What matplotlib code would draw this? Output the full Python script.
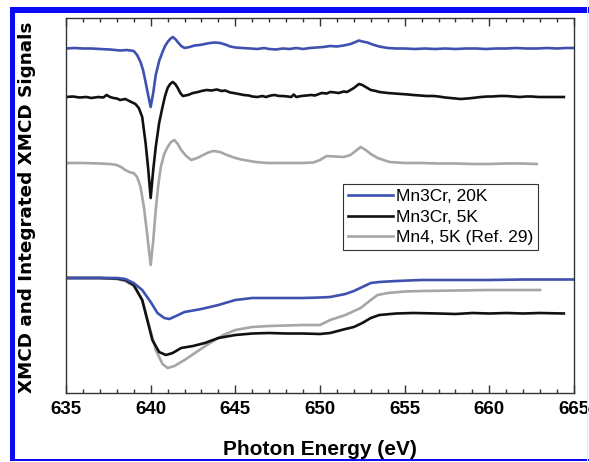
import matplotlib
matplotlib.use("Agg")
import matplotlib.pyplot as plt
from matplotlib.patches import Rectangle
from matplotlib.ticker import MultipleLocator

plt.rcParams['font.family'] = ['Liberation Sans', 'DejaVu Sans']

# XMCD spectra (arbitrary units, offset vertically)
x_blue = [635, 635.5, 636, 636.5, 637, 637.6, 638.2, 638.6, 639.0, 639.2, 639.4, 639.55,
          639.7, 639.85, 640.0, 640.15, 640.3, 640.5, 640.7, 640.85, 641.0, 641.15,
          641.3, 641.45, 641.6, 641.8, 642.0, 642.3, 642.6, 642.9, 643.2, 643.5, 643.8,
          644.1, 644.4, 644.7, 645.0, 645.4, 645.9, 646.3, 646.7, 647.0, 647.4, 647.8,
          648.2, 648.6, 649.0, 649.4, 649.8, 650.2, 650.6, 651.0, 651.4, 651.8, 652.1,
          652.3, 652.5, 652.8, 653.1, 653.5, 654.0, 654.5, 655.0, 655.6, 656.2, 656.8,
          657.4, 658.0, 658.6, 659.2, 659.8, 660.4, 661.0, 661.6, 662.2, 662.8, 663.4,
          664.0, 664.5, 665]
y_blue = [34.45, 34.5, 34.45, 34.45, 34.4, 34.35, 34.25, 34.3, 34.2, 33.8, 33.1, 32.3,
          31.1, 29.8, 28.6, 30.0, 31.8, 33.2, 34.1, 34.7, 35.1, 35.4,
          35.6, 35.4, 35.1, 34.7, 34.5, 34.6, 34.75, 34.8, 34.9, 35.0, 35.05,
          35.0, 34.85, 34.65, 34.55, 34.5, 34.45, 34.4, 34.5, 34.4, 34.35, 34.45,
          34.4, 34.5, 34.4, 34.5, 34.55, 34.6, 34.7, 34.65, 34.75, 34.9, 35.1,
          35.25, 35.15, 35.05, 34.85, 34.65, 34.5, 34.45, 34.45, 34.4, 34.45, 34.4,
          34.45, 34.4, 34.45, 34.45, 34.4, 34.45, 34.45, 34.5, 34.45, 34.45, 34.5,
          34.45, 34.5, 34.5]

x_black = [635, 635.4, 635.8, 636.2, 636.5, 636.9, 637.2, 637.4, 637.6, 637.8, 638.0,
           638.2, 638.5, 638.8, 639.1, 639.3, 639.5, 639.7, 639.85, 640.0, 640.15, 640.3,
           640.5, 640.7, 640.85, 641.0, 641.15, 641.3, 641.45, 641.6, 641.75, 641.9, 642.2,
           642.5, 642.8, 643.0, 643.3, 643.6, 643.9, 644.2, 644.4, 644.7, 644.9, 645.2,
           645.5, 645.8, 646.0, 646.3, 646.6, 646.8, 647.1, 647.3, 647.6, 647.8, 648.1,
           648.3, 648.45, 648.6, 648.9, 649.2, 649.5, 649.7, 650.1, 650.4, 650.6, 650.9,
           651.1, 651.4, 651.6, 651.8, 652.0, 652.3, 652.5, 652.7, 653.0, 653.3, 653.5,
           654.0, 654.4, 654.8, 655.2, 655.5, 655.9, 656.3, 656.7, 657.0, 657.4, 657.7,
           658.0, 658.3, 658.7, 659.0, 659.5, 659.9, 660.2, 660.6, 661.0, 661.4, 661.8,
           662.2, 662.5, 662.9, 663.3, 663.8, 664.4]
y_black = [29.6, 29.65, 29.55, 29.6, 29.5, 29.6, 29.55, 29.8, 29.6, 29.5, 29.45,
           29.3, 29.4, 29.15, 28.9, 28.5, 27.6, 25.0, 22.5, 19.5, 22.3, 24.6,
           27.0, 28.6, 29.7, 30.5, 30.9, 31.1, 30.9, 30.5, 30.0, 29.7, 29.8,
           30.0, 30.1, 30.2, 30.3, 30.25, 30.35, 30.2, 30.25, 30.05, 30.0, 29.9,
           29.8, 29.75, 29.65, 29.6, 29.7, 29.6, 29.75, 29.8, 29.7, 29.7, 29.65,
           29.6, 29.85, 29.6, 29.7, 29.75, 29.8, 29.75, 30.0, 29.95, 30.1, 30.05,
           30.0, 30.15, 30.1, 30.3, 30.5, 30.9, 30.8, 30.6, 30.3, 30.2, 30.1,
           30.0, 29.95, 29.9, 29.85, 29.8, 29.75, 29.7, 29.7, 29.65, 29.55, 29.5,
           29.45, 29.4, 29.45, 29.5, 29.6, 29.65, 29.65, 29.7, 29.7, 29.65, 29.6,
           29.65, 29.65, 29.6, 29.6, 29.6, 29.6]

x_gray = [635, 636, 637, 637.6, 638.0, 638.3, 638.5, 638.8, 639.0, 639.2, 639.4, 639.6,
          639.8, 640.0, 640.15, 640.3, 640.45, 640.6, 640.8, 641.0, 641.2, 641.4, 641.6,
          641.8, 642.1, 642.4, 642.75, 643.1, 643.4, 643.7, 644.1, 644.5, 645.0, 645.5,
          646.2, 646.9, 648, 649.0, 649.6, 650.0, 650.4, 650.9, 651.4, 651.8, 652.1,
          652.4, 652.7, 653.0, 653.4, 654.1, 655, 656, 657, 658, 659, 660, 661, 662,
          662.8]
y_gray = [23.0, 23.0, 22.95, 22.9, 22.8, 22.55, 22.3, 22.05, 22.0, 21.6, 20.6, 18.6,
          15.8, 12.8, 15.2, 18.3, 20.8, 22.6, 23.9, 24.6, 25.1, 25.3, 24.9,
          24.3, 23.7, 23.3, 23.5, 23.8, 24.05, 24.2, 24.1, 23.8, 23.5, 23.3,
          23.1, 23.0, 23.0, 23.0, 23.05, 23.3, 23.7, 23.65, 23.6, 23.8, 24.2,
          24.6, 24.3, 23.9, 23.5, 23.1, 23.0, 23.0, 22.95, 22.95, 22.9, 22.9, 22.95, 22.95,
          22.9]

# integrated XMCD
xi_blue = [635, 636, 637, 638, 638.5, 639, 639.5, 640, 640.4, 640.8, 641.1, 641.5, 642,
           643, 644, 645, 646, 647, 648, 649, 650, 650.6, 651.5, 652, 652.5, 653, 653.5,
           654.5, 656, 658, 660, 662, 665]
yi_blue = [11.5, 11.5, 11.5, 11.5, 11.4, 11.0, 10.3, 9.1, 8.0, 7.5, 7.4, 7.7, 8.1,
           8.4, 8.8, 9.3, 9.5, 9.5, 9.5, 9.5, 9.55, 9.6, 9.9, 10.2, 10.6, 11.0, 11.1,
           11.2, 11.3, 11.3, 11.3, 11.35, 11.35]

xi_black = [635, 637, 638, 638.5, 639, 639.5, 639.8, 640.1, 640.5, 640.9, 641.3, 641.8,
            642.5, 643.2, 644, 645, 646, 647, 648, 649, 650, 650.6, 651.5, 652, 652.5,
            653, 653.5, 654.5, 655.5, 657, 658, 659, 660, 661, 662, 663, 664.4]
yi_black = [11.5, 11.5, 11.45, 11.3, 10.8, 9.3, 7.3, 5.3, 4.1, 3.8, 4.0, 4.5,
            4.7, 5.0, 5.5, 5.8, 5.95, 6.0, 5.95, 5.95, 5.9, 6.0, 6.4, 6.6, 7.0,
            7.5, 7.8, 7.95, 8.0, 7.95, 7.9, 8.0, 7.95, 8.0, 7.95, 8.0, 7.95]

xi_gray = [635, 637, 638, 638.5, 639, 639.5, 639.9, 640.3, 640.7, 641.0, 641.4, 642,
           642.7, 643.5, 644.3, 645, 646, 647, 648, 649, 650, 650.6, 651.5, 652.4, 653,
           653.4, 654, 655, 656, 658, 660, 662, 663]
yi_gray = [11.5, 11.5, 11.4, 11.2, 10.7, 9.3, 6.8, 4.3, 2.9, 2.5, 2.7, 3.3,
           4.1, 5.0, 5.8, 6.3, 6.6, 6.7, 6.75, 6.8, 6.8, 7.3, 7.8, 8.5, 9.3,
           9.8, 10.0, 10.15, 10.2, 10.25, 10.3, 10.3, 10.3]

labels = ['Mn3Cr, 20K', 'Mn3Cr, 5K', 'Mn4, 5K (Ref. 29)']
c_blue, c_black, c_gray = '#3f51b0', '#111111', '#a6a6a6'

fig = plt.figure(figsize=(5.89, 4.62), dpi=100)
ax = fig.add_axes([66 / 589, 1 - 393 / 462, 508 / 589, 375 / 462])

lw = 1.9
ax.plot(x_blue, y_blue, color=c_blue, lw=lw, label=labels[0])
ax.plot(x_black, y_black, color=c_black, lw=lw, label=labels[1])
ax.plot(x_gray, y_gray, color=c_gray, lw=lw, label=labels[2])
ax.plot(xi_gray, yi_gray, color=c_gray, lw=lw)
ax.plot(xi_black, yi_black, color=c_black, lw=lw)
ax.plot(xi_blue, yi_blue, color=c_blue, lw=lw)

ax.set_xlim(635, 665)
ax.set_ylim(0, 37.5)
ax.set_yticks([])
ax.xaxis.set_major_locator(MultipleLocator(5))
ax.xaxis.set_minor_locator(MultipleLocator(1))
ax.tick_params(axis='x', which='both', direction='in', top=True, color='#333333')
ax.tick_params(axis='x', which='major', length=6, width=1, pad=6,
               labelsize=13.5)
ax.tick_params(axis='x', which='minor', length=3, width=1)
for lab in ax.get_xticklabels():
    lab.set_fontweight('bold')
for sp in ax.spines.values():
    sp.set_color('#333333')
    sp.set_linewidth(1.0)

ax.set_xlabel('Photon Energy (eV)', fontsize=15, fontweight='bold')
ax.xaxis.set_label_coords(0.5, -0.125)
ax.set_ylabel('XMCD and Integrated XMCD Signals', fontsize=13.2, fontweight='bold',
              family='DejaVu Sans')
ax.yaxis.set_label_coords(-0.059, 0.495)

leg = ax.legend(loc='upper left', bbox_to_anchor=(0.545, 0.557), borderaxespad=0,
                fontsize=12.5, handlelength=2.6, handletextpad=0.15, labelspacing=0.3,
                fancybox=False, framealpha=1, borderpad=0.3)
leg.get_frame().set_edgecolor('#333333')
leg.get_frame().set_linewidth(0.8)

# blue frame around the figure
W, H = 589, 462
fig.add_artist(Rectangle((10 / W, 1 - 13 / H), 1, 6 / H, transform=fig.transFigure,
                         color='#0a0af5', lw=0))
fig.add_artist(Rectangle((10 / W, 1 / H), 5 / W, 1 - 8 / H, transform=fig.transFigure,
                         color='#0a0af5', lw=0))
fig.add_artist(Rectangle((10 / W, 1 / H), 1, 2 / H, transform=fig.transFigure,
                         color='#0a0af5', lw=0))
fig.add_artist(Rectangle((587 / W, 1 / H), 1 / W, 1, transform=fig.transFigure,
                         color='#e0e0ff', lw=0))

fig.savefig('out.png', dpi=100)
